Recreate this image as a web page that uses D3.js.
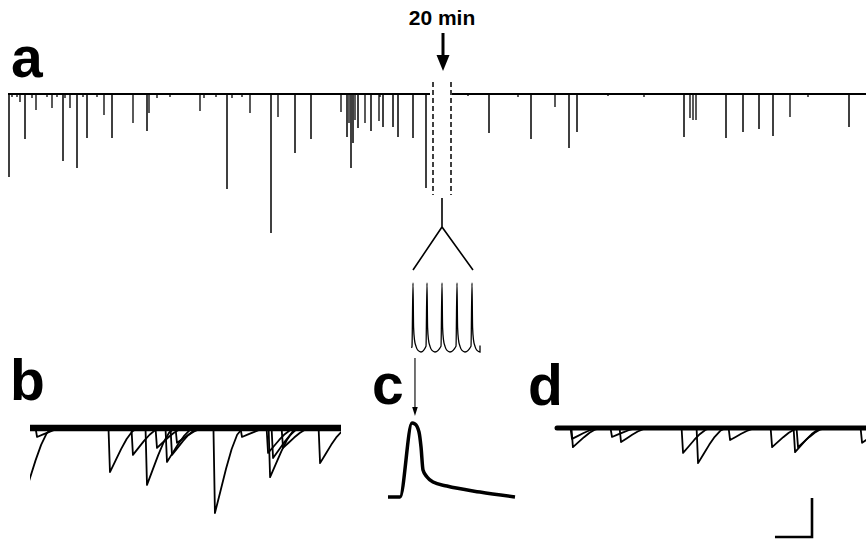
<!DOCTYPE html>
<html>
<head>
<meta charset="utf-8">
<style>
  body { margin: 0; background: #fff; }
  svg { display: block; }
  .lbl { font-family: "Liberation Sans", Arial, sans-serif; font-weight: bold; fill: #000; }
</style>
<script src="https://d3js.org/d3.v7.min.js"></script>
</head>
<body>
<svg width="866" height="539"></svg>
<script>
// ---- data ----
// a: long record, time in s, event amplitude in pA (inward = down)
var aSegments = [[0, 211], [222, 429]];
var aEventTimes = [0.5, 6, 8.5, 14, 22, 27.5, 31, 34.5, 39.5, 48, 52, 62.5, 69.5, 70.5, 96, 98,
  109.5, 121, 131.5, 135, 143.5, 151.5, 166.5, 169.5, 170.5, 171.5, 172.5, 173.5, 175, 178.5,
  181.5, 185.5, 187.5, 192.5, 195, 202.5, 209,
  240.5, 261.5, 273.5, 280.5, 284.5, 338, 341, 342.5, 344, 359, 367.5, 375.5, 382.5, 391, 420.5,
  2, 4.5, 12, 19.5, 24.5, 28.5, 37.5, 44.5, 74.5, 81, 104, 112, 117, 186, 230, 255, 300, 318, 400];
var aEventAmps = [83, 8, 45, 16, 14, 67, 14, 74, 44, 21, 44, 29, 37, 19, 17, 4,
  95, 19, 139, 23, 59, 45, 18, 43, 29, 74, 49, 26, 34, 29,
  37, 27, 33, 33, 43, 44, 94,
  39, 45, 13, 54, 38, 43, 24, 26, 26, 44, 38, 35, 42, 23, 33,
  3, 3, 4, 3, 3, 4, 3, 3, 4, 3, 3, 4, 3, 3, 2, 3, 2, 3, 3];

// spikes in the expanded inset (ms, mV)
var spikeTimes = [8, 22, 37, 52, 67];
var spikeShapeT = [-1, 0, 0.6, 1.5, 3, 5, 8];
var spikeShapeV = [-58, 20, -35, -50, -58, -63, -65];

// c: single spike (ms, mV)
var cTimes = [0, 2.36, 4.72, 5.31, 6.10, 6.50, 6.89, 7.68, 8.86, 11.6, 18.1, 25];
var cVolts = [-65, -65, 20, 18.9, 9.7, -7.6, -34, -42, -47.8, -52.4, -59.3, -65];

// b, d: miniature currents (peak time ms, amplitude pA)
var bPeakTimes = [3.8, -3, 43.2, 55.6, 63.2, 68.6, 74.0, 76.7, 79.4, 99.9, 114.5, 128.6, 129.7, 131.3, 136.7, 156.7];
var bAmps = [2.3, 17.3, 11.3, 6.9, 14.6, 5.1, 8.7, 6.9, 3.8, 21.8, 2.3, 6.4, 12.6, 7.7, 5.1, 9.0];
var dPeakTimes = [8.6, 8.1, 29.7, 34.6, 68.1, 76.2, 93.5, 116.2, 128.6, 130.2, 164.8];
var dAmps = [4.9, 2.8, 2.3, 3.6, 6.4, 9.0, 3.1, 4.9, 6.2, 4.9, 3.8];
var epscShapeT = [-0.8, 0, 3, 6, 9, 12, 15];
var epscShapeF = [0, 1, 0.74, 0.48, 0.25, 0.08, 0];

var scaleBarMs = 20, scaleBarPa = 10;

// ---- drawing ----
var svg = d3.select("svg");

function label(x, y, t) {
  svg.append("text").attr("class", "lbl").attr("x", x).attr("y", y)
    .attr("font-size", 57).text(t);
}

// panel a
var xA = d3.scaleLinear().domain([0, 429]).range([8, 866]);
var yA = d3.scaleLinear().domain([0, 150]).range([94, 244]);

label(11, 77, "a");

var gA = svg.append("g").attr("stroke", "#000");
gA.selectAll(".seg").data(aSegments).enter().append("line")
  .attr("x1", d => xA(d[0])).attr("x2", d => xA(d[1]))
  .attr("y1", yA(0)).attr("y2", yA(0))
  .attr("stroke-width", 2);
gA.selectAll(".ev").data(aEventTimes).enter().append("line")
  .attr("x1", d => xA(d)).attr("x2", d => xA(d))
  .attr("y1", yA(0)).attr("y2", (d, i) => yA(aEventAmps[i]))
  .attr("stroke-width", (d, i) => aEventAmps[i] > 30 ? 1.5 : 1.3);

// gap of 20 min
var gapL = xA(212.5), gapR = xA(221.5), gapC = xA(217.5);
gA.selectAll(".gap").data([gapL, gapR]).enter().append("line")
  .attr("x1", d => d).attr("x2", d => d)
  .attr("y1", 82).attr("y2", 195)
  .attr("stroke-width", 1.5).attr("stroke-dasharray", "5,3");

svg.append("text").attr("class", "lbl").attr("x", gapC - 1).attr("y", 25)
  .attr("text-anchor", "middle").attr("font-size", 21).text("20 min");
svg.append("line").attr("x1", gapC).attr("x2", gapC).attr("y1", 33).attr("y2", 58)
  .attr("stroke", "#000").attr("stroke-width", 3);
svg.append("path").attr("d", "M" + (gapC - 6.5) + ",55L" + (gapC + 6.5) + ",55L" + gapC + ",71Z")
  .attr("fill", "#000");

// expanded spikes
var xS = d3.scaleLinear().domain([0, 75]).range([405, 480]);
var yS = d3.scaleLinear().domain([-65, 20]).range([352, 283]);

var spikePts = [[6.5, -60]];
spikeTimes.forEach(function (t) {
  spikeShapeT.forEach(function (dt, j) { spikePts.push([t + dt, spikeShapeV[j]]); });
});
spikePts.push([75, -57]);

var connX = xS((spikeTimes[0] + spikeTimes[4]) / 2 - 0.5);
svg.append("path")
  .attr("d", "M" + connX + ",198V227M" + xS(spikeTimes[0]) + ",270L" + connX + ",227L" + xS(spikeTimes[4] + 1) + ",270")
  .attr("fill", "none").attr("stroke", "#000").attr("stroke-width", 1.6);

svg.append("path").datum(spikePts)
  .attr("d", d3.line().x(d => xS(d[0])).y(d => yS(d[1])).curve(d3.curveMonotoneX))
  .attr("fill", "none").attr("stroke", "#000").attr("stroke-width", 1.3);

// panel c
var xC = d3.scaleLinear().domain([0, 25]).range([388, 515]);
var yC = d3.scaleLinear().domain([-65, 20]).range([497, 423]);

label(372, 404, "c");
var cPeakX = xC(5.31);
svg.append("line").attr("x1", cPeakX).attr("x2", cPeakX).attr("y1", 358).attr("y2", 409)
  .attr("stroke", "#000").attr("stroke-width", 1.1);
svg.append("path").attr("d", "M" + (cPeakX - 2.8) + ",407L" + (cPeakX + 2.8) + ",407L" + cPeakX + ",416Z")
  .attr("fill", "#000");

svg.append("path").datum(cTimes.map((t, i) => [t, cVolts[i]]))
  .attr("d", d3.line().x(d => xC(d[0])).y(d => yC(d[1])).curve(d3.curveMonotoneX))
  .attr("fill", "none").attr("stroke", "#000").attr("stroke-width", 3.5)
  .attr("stroke-linejoin", "round");

// panels b and d
var yB = d3.scaleLinear().domain([0, 10]).range([428, 467]);
var xB = d3.scaleLinear().domain([0, 168]).range([30, 341]);
var xD = d3.scaleLinear().domain([0, 168]).range([557, 868]);

var defs = svg.append("defs");
defs.append("clipPath").attr("id", "clipB").append("rect")
  .attr("x", xB(0)).attr("y", 380).attr("width", xB(168) - xB(0)).attr("height", 160);

function minis(x, times, amps, thick, clip) {
  var g = svg.append("g").attr("stroke", "#000").attr("fill", "none");
  if (clip) g.attr("clip-path", "url(#" + clip + ")");
  var line = d3.line().x(d => x(d[0])).y(d => yB(d[1]));
  times.forEach(function (t, i) {
    var pts = epscShapeT.map((dt, j) => [t + dt, amps[i] * epscShapeF[j]]);
    g.append("path").attr("d", line(pts)).attr("stroke-width", 1.8)
      .attr("stroke-linejoin", "round");
  });
  g.append("line").attr("x1", x(0)).attr("x2", x(168))
    .attr("y1", yB(0)).attr("y2", yB(0))
    .attr("stroke-width", thick).attr("stroke-linecap", "round");
}

label(10, 400, "b");
minis(xB, bPeakTimes, bAmps, 6.5, "clipB");

label(528, 405, "d");
minis(xD, dPeakTimes, dAmps, 5, null);

// scale bar
var sbX = 812, sbY = 537;
svg.append("path")
  .attr("d", "M" + (sbX - (xD(scaleBarMs) - xD(0))) + "," + sbY + "H" + sbX + "V" + (sbY - (yB(scaleBarPa) - yB(0))))
  .attr("fill", "none").attr("stroke", "#000").attr("stroke-width", 2.6);
</script>
</body>
</html>
